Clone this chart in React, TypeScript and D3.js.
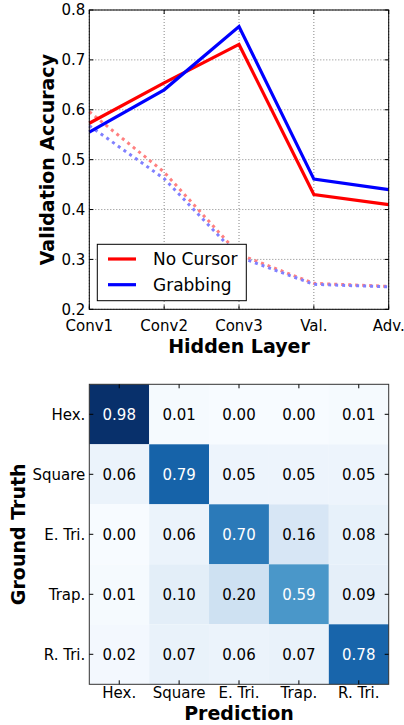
import React from "react";
import * as d3 from "d3";

const layers = ["Conv1", "Conv2", "Conv3", "Val.", "Adv."];
const noCursor = [0.573, 0.654, 0.731, 0.43, 0.41];
const grabbing = [0.555, 0.64, 0.767, 0.461, 0.44];
const noCursorBase = [0.596, 0.475, 0.31, 0.252, 0.246];
const grabbingBase = [0.568, 0.462, 0.305, 0.25, 0.245];
const yTicks = [0.2, 0.3, 0.4, 0.5, 0.6, 0.7, 0.8];

const shapes = ["Hex.", "Square", "E. Tri.", "Trap.", "R. Tri."];
const confusion = [
  [0.98, 0.01, 0.0, 0.0, 0.01],
  [0.06, 0.79, 0.05, 0.05, 0.05],
  [0.0, 0.06, 0.7, 0.16, 0.08],
  [0.01, 0.1, 0.2, 0.59, 0.09],
  [0.02, 0.07, 0.06, 0.07, 0.78],
];

const FONT = "DejaVu Sans";

export default function App() {
  // line chart
  const L = { left: 89.3, right: 388.7, top: 10, bottom: 309.3 };
  const x = d3.scalePoint<string>().domain(layers).range([L.left, L.right]);
  const y = d3.scaleLinear().domain([0.2, 0.8]).range([L.bottom, L.top]);
  const line = d3
    .line<number>()
    .x((_, i) => x(layers[i]) as number)
    .y((d) => y(d));

  // heatmap
  const H = { left: 89.3, right: 388.7, top: 384.3, bottom: 684.3 };
  const cx = d3.scaleBand<string>().domain(shapes).range([H.left, H.right]);
  const cy = d3.scaleBand<string>().domain(shapes).range([H.top, H.bottom]);
  const vmax = d3.max(confusion.flat()) as number;
  const vmin = d3.min(confusion.flat()) as number;
  const color = (v: number) => d3.interpolateBlues((v - vmin) / (vmax - vmin));
  const tick = 4;

  return (
    <svg
      width={404}
      height={725}
      style={{ position: "absolute", left: 0, top: 0 }}
      fontFamily={FONT}
    >
      <rect width={404} height={725} fill="#fff" />
      {/* grid */}
      {layers.map((l) => (
        <line
          key={"gx" + l}
          x1={x(l)}
          x2={x(l)}
          y1={L.top}
          y2={L.bottom}
          stroke="#666"
          strokeWidth={0.8}
          strokeDasharray="1,2"
        />
      ))}
      {yTicks.map((t) => (
        <line
          key={"gy" + t}
          x1={L.left}
          x2={L.right}
          y1={y(t)}
          y2={y(t)}
          stroke="#666"
          strokeWidth={0.8}
          strokeDasharray="1,2"
        />
      ))}
      {/* dotted baselines */}
      <path
        d={line(noCursorBase) as string}
        fill="none"
        stroke="#ff8080"
        strokeWidth={3}
        strokeDasharray="3,4"
      />
      <path
        d={line(grabbingBase) as string}
        fill="none"
        stroke="#8080ff"
        strokeWidth={3}
        strokeDasharray="3,4"
      />
      <path d={line(noCursor) as string} fill="none" stroke="#ff0000" strokeWidth={3.2} />
      <path d={line(grabbing) as string} fill="none" stroke="#0000ff" strokeWidth={3.2} />
      {/* frame */}
      <rect
        x={L.left}
        y={L.top}
        width={L.right - L.left}
        height={L.bottom - L.top}
        fill="none"
        stroke="#000"
        strokeWidth={1}
      />
      {/* ticks */}
      {layers.map((l) => (
        <g key={"tx" + l}>
          <line x1={x(l)} x2={x(l)} y1={L.bottom} y2={L.bottom - tick} stroke="#000" />
          <line x1={x(l)} x2={x(l)} y1={L.top} y2={L.top + tick} stroke="#000" />
          <text
            x={x(l)}
            y={331}
            fontSize={15}
            textAnchor="middle"
            fill="#000"
          >
            {l}
          </text>
        </g>
      ))}
      {yTicks.map((t) => (
        <g key={"ty" + t}>
          <line x1={L.left} x2={L.left + tick} y1={y(t)} y2={y(t)} stroke="#000" />
          <line x1={L.right} x2={L.right - tick} y1={y(t)} y2={y(t)} stroke="#000" />
          <text
            x={L.left - 4}
            y={y(t)}
            dy="0.36em"
            fontSize={15}
            textAnchor="end"
            fill="#000"
          >
            {t.toFixed(1)}
          </text>
        </g>
      ))}
      <text
        x={(L.left + L.right) / 2}
        y={353}
        fontSize={19}
        fontWeight="bold"
        textAnchor="middle"
      >
        Hidden Layer
      </text>
      <text
        transform={`translate(54,${(L.top + L.bottom) / 2}) rotate(-90)`}
        fontSize={19}
        fontWeight="bold"
        textAnchor="middle"
      >
        Validation Accuracy
      </text>
      {/* legend */}
      <rect x={97.3} y={244.3} width={149} height={56.4} fill="#fff" stroke="#000" strokeWidth={1} />
      <line x1={108} x2={136} y1={259} y2={259} stroke="#ff0000" strokeWidth={3.2} />
      <line x1={108} x2={136} y1={284.7} y2={284.7} stroke="#0000ff" strokeWidth={3.2} />
      <text x={153} y={259} dy="0.36em" fontSize={17}>
        No Cursor
      </text>
      <text x={153} y={284.7} dy="0.36em" fontSize={17}>
        Grabbing
      </text>

      {/* heatmap */}
      {confusion.map((row, i) =>
        row.map((v, j) => (
          <g key={`c${i}-${j}`}>
            <rect
              x={cx(shapes[j])}
              y={cy(shapes[i])}
              width={cx.bandwidth()}
              height={cy.bandwidth()}
              fill={color(v)}
            />
            <text
              x={(cx(shapes[j]) as number) + cx.bandwidth() / 2}
              y={(cy(shapes[i]) as number) + cy.bandwidth() / 2}
              dy="0.36em"
              textAnchor="middle"
              fontSize={15}
              fill={v > vmax / 2 ? "#fff" : "#000"}
            >
              {v.toFixed(2)}
            </text>
          </g>
        ))
      )}
      <rect
        x={H.left}
        y={H.top}
        width={H.right - H.left}
        height={H.bottom - H.top}
        fill="none"
        stroke="#333"
        strokeWidth={1}
      />
      {shapes.map((s) => {
        const px = (cx(s) as number) + cx.bandwidth() / 2;
        const py = (cy(s) as number) + cy.bandwidth() / 2;
        return (
          <g key={"ht" + s}>
            <line x1={px} x2={px} y1={H.bottom} y2={H.bottom - tick} stroke="#000" />
            <line x1={px} x2={px} y1={H.top} y2={H.top + tick} stroke="#000" />
            <line x1={H.left} x2={H.left + tick} y1={py} y2={py} stroke="#000" />
            <line x1={H.right} x2={H.right - tick} y1={py} y2={py} stroke="#000" />
            <text x={px} y={698} fontSize={15} textAnchor="middle">
              {s}
            </text>
            <text x={H.left - 4} y={py} dy="0.36em" fontSize={15} textAnchor="end">
              {s}
            </text>
          </g>
        );
      })}
      <text
        x={(H.left + H.right) / 2}
        y={720}
        fontSize={19}
        fontWeight="bold"
        textAnchor="middle"
      >
        Prediction
      </text>
      <text
        transform={`translate(25,${(H.top + H.bottom) / 2}) rotate(-90)`}
        fontSize={19}
        fontWeight="bold"
        textAnchor="middle"
      >
        Ground Truth
      </text>
    </svg>
  );
}
